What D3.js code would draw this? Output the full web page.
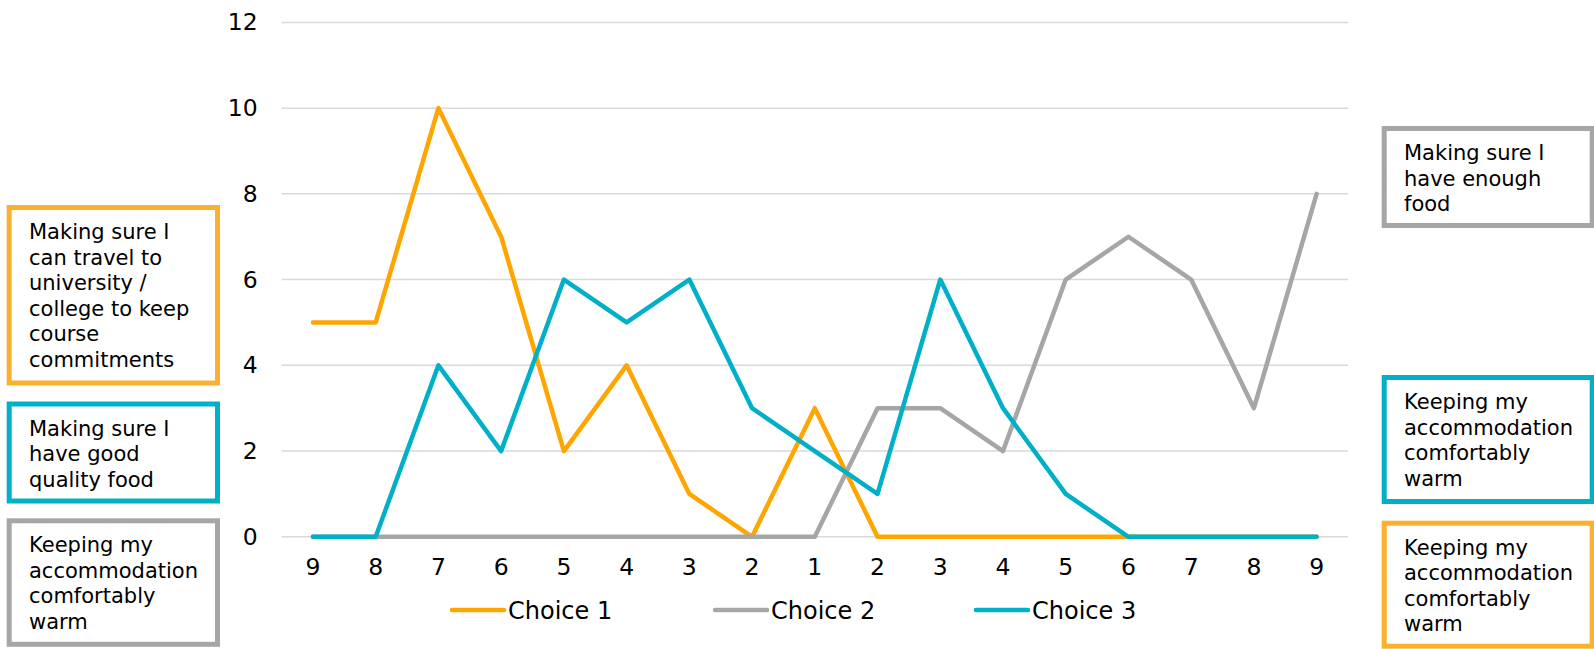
<!DOCTYPE html>
<html>
<head>
<meta charset="utf-8">
<script src="https://cdn.jsdelivr.net/npm/d3@7"></script>
<style>
  html, body { margin: 0; padding: 0; background: #ffffff; }
  svg { display: block; font-family: "DejaVu Sans", Verdana, sans-serif; }
</style>
</head>
<body>
<svg id="chart" width="1594" height="649"></svg>
<script>
// Rank positions along the x axis (choice rank on each side)
const categories = ["9","8","7","6","5","4","3","2","1","2","3","4","5","6","7","8","9"];
const choice1 = [5, 5, 10, 7, 2, 4, 1, 0, 3, 0, 0, 0, 0, 0, 0, 0, 0];
const choice2 = [0, 0, 0, 0, 0, 0, 0, 0, 0, 3, 3, 2, 6, 7, 6, 3, 8];
const choice3 = [0, 0, 4, 2, 6, 5, 6, 3, 2, 1, 6, 3, 1, 0, 0, 0, 0];
const seriesNames = ["Choice 1", "Choice 2", "Choice 3"];
const yTicks = [0, 2, 4, 6, 8, 10, 12];

// Side annotations
const leftNotes = [
  ["Making sure I", "can travel to", "university /", "college to keep", "course", "commitments"],
  ["Making sure I", "have good", "quality food"],
  ["Keeping my", "accommodation", "comfortably", "warm"]
];
const rightNotes = [
  ["Making sure I", "have enough", "food"],
  ["Keeping my", "accommodation", "comfortably", "warm"],
  ["Keeping my", "accommodation", "comfortably", "warm"]
];

const lineColors = ["#FFA500", "#A6A6A6", "#00AFC8"];
const boxColors = ["#FBB12E", "#A6A6A6", "#00AFC8"];

const svg = d3.select("#chart");
const plot = { left: 281.6, right: 1348, top: 22.4, bottom: 536.8 };

const x = d3.scaleBand()
  .domain(d3.range(categories.length))
  .range([plot.left, plot.right]);
const y = d3.scaleLinear().domain([0, 12]).range([plot.bottom, plot.top]);

// Gridlines
svg.append("g")
  .selectAll("line")
  .data(yTicks)
  .join("line")
  .attr("x1", plot.left).attr("x2", plot.right)
  .attr("y1", d => y(d)).attr("y2", d => y(d))
  .attr("stroke", "#D9D9D9").attr("stroke-width", 1.5);

// Y axis labels
const yAxis = svg.append("g")
  .attr("transform", `translate(${plot.left},0)`)
  .call(d3.axisLeft(y).tickValues(yTicks).tickSize(0).tickPadding(24));
yAxis.select(".domain").remove();
yAxis.selectAll("text")
  .attr("font-size", 23.5).attr("fill", "#000").attr("font-family", "DejaVu Sans, sans-serif");

// X axis labels
const xAxis = svg.append("g")
  .attr("transform", `translate(0,${plot.bottom})`)
  .call(d3.axisBottom(x).tickFormat(i => categories[i]).tickSize(0).tickPadding(22));
xAxis.select(".domain").remove();
xAxis.selectAll("text")
  .attr("font-size", 23.5).attr("fill", "#000").attr("font-family", "DejaVu Sans, sans-serif");

// Lines
const line = d3.line()
  .x((d, i) => x(i) + x.bandwidth() / 2)
  .y(d => y(d));

[choice1, choice2, choice3].forEach((vals, k) => {
  svg.append("path")
    .datum(vals)
    .attr("d", line)
    .attr("fill", "none")
    .attr("stroke", lineColors[k])
    .attr("stroke-width", 4.5)
    .attr("stroke-linejoin", "round")
    .attr("stroke-linecap", "round");
});

// Legend
const legendX = [452, 715, 976];
const legendY = 610;
const legend = svg.append("g");
seriesNames.forEach((name, k) => {
  legend.append("line")
    .attr("x1", legendX[k]).attr("x2", legendX[k] + 52)
    .attr("y1", legendY).attr("y2", legendY)
    .attr("stroke", lineColors[k]).attr("stroke-width", 4.5)
    .attr("stroke-linecap", "round");
  legend.append("text")
    .attr("x", legendX[k] + 56).attr("y", legendY + 8.5)
    .attr("font-size", 24).attr("fill", "#000")
    .text(name);
});

// Annotation boxes
function drawBox(lines, bx, by, bw, bh, color, tx, lineH) {
  const g = svg.append("g");
  g.append("rect")
    .attr("x", bx).attr("y", by).attr("width", bw).attr("height", bh)
    .attr("fill", "#fff").attr("stroke", color).attr("stroke-width", 5);
  const t = g.append("text")
    .attr("font-size", 21).attr("fill", "#000");
  lines.forEach((s, i) => {
    t.append("tspan").attr("x", tx).attr("y", by + 31.5 + i * lineH).text(s);
  });
}

const leftBoxes = [
  { y: 207.5, h: 175.5 },
  { y: 404, h: 97 },
  { y: 520.8, h: 123.5 }
];
const leftColors = [boxColors[0], boxColors[2], boxColors[1]];
leftNotes.forEach((lines, k) => {
  drawBox(lines, 9.2, leftBoxes[k].y, 208.3, leftBoxes[k].h, leftColors[k], 29, 25.5);
});

const rightBoxes = [
  { y: 128.5, h: 97 },
  { y: 377.5, h: 124 },
  { y: 523.2, h: 123 }
];
const rightColors = [boxColors[1], boxColors[2], boxColors[0]];
rightNotes.forEach((lines, k) => {
  drawBox(lines, 1384.2, rightBoxes[k].y, 208, rightBoxes[k].h, rightColors[k], 1404, 25.5);
});
</script>
</body>
</html>
